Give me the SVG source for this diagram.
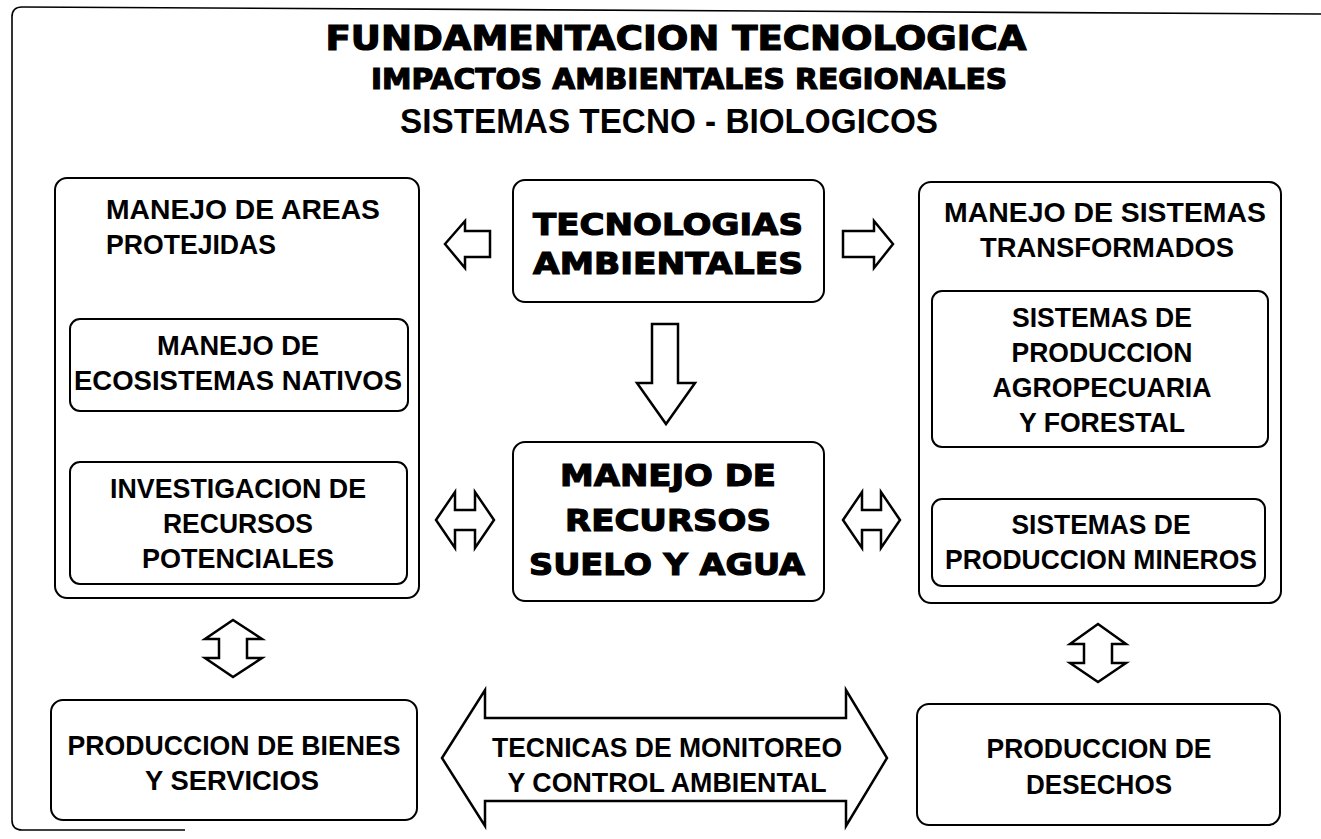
<svg xmlns="http://www.w3.org/2000/svg" width="1321" height="839" viewBox="0 0 1321 839">
<style>
.bx{fill:none;stroke:#000;stroke-width:2}
.t{font-family:"Liberation Sans",Arial,sans-serif;font-weight:bold;font-size:28px;fill:#000;text-anchor:middle}
.tl{text-anchor:start}
.big{font-size:35px}
.h{font-family:"DejaVu Sans","Liberation Sans",sans-serif;font-weight:bold;fill:#000;stroke:#000;stroke-width:1.2;text-anchor:middle}
.ar{fill:#fff;stroke:#000;stroke-width:2.5;stroke-linejoin:miter}
</style>
<rect width="1321" height="839" fill="#fff"/>
<path d="M185 830 H22 Q12 830 12 820 V17 Q12 7 22 7 L1321 14" fill="none" stroke="#000" stroke-width="1.6"/>

<g id="title">
<text class="h" x="676" y="50" font-size="33" textLength="701" lengthAdjust="spacingAndGlyphs">FUNDAMENTACION TECNOLOGICA</text>
<text class="h" x="689" y="89" font-size="28" textLength="636" lengthAdjust="spacingAndGlyphs">IMPACTOS AMBIENTALES REGIONALES</text>
<text class="t big" x="669" y="133" textLength="538" lengthAdjust="spacingAndGlyphs">SISTEMAS TECNO - BIOLOGICOS</text>
</g>

<g id="areas-protejidas">
<rect class="bx" x="55" y="178" width="364" height="420" rx="12"/>
<text class="t tl" x="106" y="219" textLength="274" lengthAdjust="spacingAndGlyphs">MANEJO DE AREAS</text>
<text class="t tl" x="106" y="254" textLength="170" lengthAdjust="spacingAndGlyphs">PROTEJIDAS</text>
</g>
<g id="ecosistemas-nativos">
<rect class="bx" x="70" y="319" width="338" height="92" rx="10"/>
<text class="t" x="238" y="355" textLength="162" lengthAdjust="spacingAndGlyphs">MANEJO DE</text>
<text class="t" x="238" y="390" textLength="328" lengthAdjust="spacingAndGlyphs">ECOSISTEMAS NATIVOS</text>
</g>
<g id="investigacion">
<rect class="bx" x="70" y="462" width="337" height="122" rx="10"/>
<text class="t" x="238" y="498" textLength="256" lengthAdjust="spacingAndGlyphs">INVESTIGACION DE</text>
<text class="t" x="238" y="533" textLength="150" lengthAdjust="spacingAndGlyphs">RECURSOS</text>
<text class="t" x="238" y="568" textLength="192" lengthAdjust="spacingAndGlyphs">POTENCIALES</text>
</g>

<g id="tecnologias-ambientales">
<rect class="bx" x="513" y="180" width="311" height="122" rx="12"/>
<text class="h" x="668" y="235" font-size="31" textLength="270" lengthAdjust="spacingAndGlyphs">TECNOLOGIAS</text>
<text class="h" x="668" y="274" font-size="31" textLength="270" lengthAdjust="spacingAndGlyphs">AMBIENTALES</text>
</g>
<g id="recursos-suelo-agua">
<rect class="bx" x="513" y="442" width="311" height="159" rx="12"/>
<text class="h" x="668" y="486" font-size="31" textLength="216" lengthAdjust="spacingAndGlyphs">MANEJO DE</text>
<text class="h" x="668" y="531" font-size="31" textLength="206" lengthAdjust="spacingAndGlyphs">RECURSOS</text>
<text class="h" x="667" y="575" font-size="31" textLength="276" lengthAdjust="spacingAndGlyphs">SUELO Y AGUA</text>
</g>

<g id="sistemas-transformados">
<rect class="bx" x="919" y="182" width="362" height="421" rx="12"/>
<text class="t" x="1105" y="222" textLength="322" lengthAdjust="spacingAndGlyphs">MANEJO DE SISTEMAS</text>
<text class="t" x="1107" y="257" textLength="254" lengthAdjust="spacingAndGlyphs">TRANSFORMADOS</text>
</g>
<g id="agropecuaria">
<rect class="bx" x="932" y="291" width="336" height="156" rx="10"/>
<text class="t" x="1102" y="327" textLength="180" lengthAdjust="spacingAndGlyphs">SISTEMAS DE</text>
<text class="t" x="1102" y="362" textLength="181" lengthAdjust="spacingAndGlyphs">PRODUCCION</text>
<text class="t" x="1102" y="397" textLength="219" lengthAdjust="spacingAndGlyphs">AGROPECUARIA</text>
<text class="t" x="1102" y="432" textLength="166" lengthAdjust="spacingAndGlyphs">Y FORESTAL</text>
</g>
<g id="mineros">
<rect class="bx" x="932" y="499" width="333" height="87" rx="10"/>
<text class="t" x="1101" y="534" textLength="179" lengthAdjust="spacingAndGlyphs">SISTEMAS DE</text>
<text class="t" x="1101" y="569" textLength="312" lengthAdjust="spacingAndGlyphs">PRODUCCION MINEROS</text>
</g>

<g id="bienes-servicios">
<rect class="bx" x="51" y="700" width="366" height="120" rx="12"/>
<text class="t" x="234" y="755" textLength="333" lengthAdjust="spacingAndGlyphs">PRODUCCION DE BIENES</text>
<text class="t" x="232" y="790" textLength="174" lengthAdjust="spacingAndGlyphs">Y SERVICIOS</text>
</g>
<g id="desechos">
<rect class="bx" x="917" y="704" width="363" height="121" rx="12"/>
<text class="t" x="1099" y="758" textLength="225" lengthAdjust="spacingAndGlyphs">PRODUCCION DE</text>
<text class="t" x="1099" y="794" textLength="146" lengthAdjust="spacingAndGlyphs">DESECHOS</text>
</g>

<g id="connectors">
<polygon class="ar" points="445,244 465,221 465,231 490,231 490,257 465,257 465,268"/>
<polygon class="ar" points="893,244 874,221 874,231 843,231 843,257 874,257 874,268"/>
<polygon class="ar" points="652,324 678,324 678,383 695,383 666,424 637,383 652,383"/>
<polygon class="ar" points="436,520 455,492 455,510 475,510 475,492 494,520 475,548 475,530 455,530 455,548"/>
<polygon class="ar" points="843,520 862,492 862,510 881,510 881,492 900,520 881,548 881,530 862,530 862,548"/>
<polygon class="ar" points="233,620 262,639 247,639 247,658 262,658 233,677 205,658 219,658 219,639 205,639"/>
<polygon class="ar" points="1098,624 1126,644 1112,644 1112,663 1126,663 1098,682 1070,663 1084,663 1084,644 1070,644"/>
<g id="monitoreo">
<polygon class="ar" points="442,758 485,690 485,718 846,718 846,690 887,758 846,826 846,801 485,801 485,826"/>
<text class="t" x="667" y="757" textLength="350" lengthAdjust="spacingAndGlyphs">TECNICAS DE MONITOREO</text>
<text class="t" x="667" y="792" textLength="319" lengthAdjust="spacingAndGlyphs">Y CONTROL AMBIENTAL</text>
</g>
</g>
</svg>
